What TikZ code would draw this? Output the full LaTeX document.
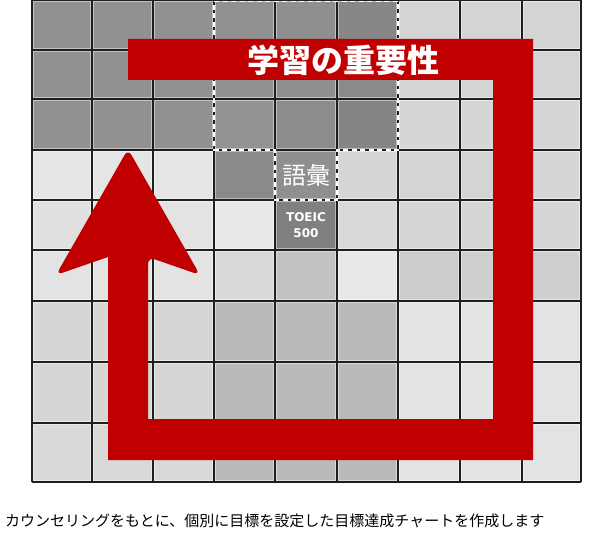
\documentclass[tikz,border=0pt]{standalone}
\usepackage{fontspec}
\newfontfamily\cjk{Noto Sans CJK JP}
\newfontfamily\dejab{DejaVu Sans}
\definecolor{arrowred}{HTML}{C00000}
\definecolor{gridink}{HTML}{1E1E1E}
\begin{document}
\begin{tikzpicture}[x=1pt,y=-1pt,
  gridline/.style={draw=gridink,line width=1.3pt},
  dashedge/.style={draw=white,line width=1.8pt,dash pattern=on 5pt off 3.5pt},
  titletext/.style={text=white,font=\cjk\bfseries\fontsize{32}{32}\selectfont,inner sep=0pt},
  celltext/.style={text=white,inner sep=0pt},
  captiontext/.style={text=black,font=\cjk\fontsize{15}{16}\selectfont,inner sep=0pt,anchor=west}]
\useasboundingbox (0,0) rectangle (600,537);
\fill[white] (0,0) rectangle (600,537);
\def\xs{{32,92,153,214,275,337,398,460,522,581}}
\def\ys{{0,50,99,150,200,250,301,362,423,482}}
\def\gl{{0.57,0.57,0.57, 0.57,0.56,0.53, 0.83,0.83,0.83,
         0.57,0.57,0.57, 0.57,0.56,0.54, 0.83,0.83,0.83,
         0.57,0.57,0.57, 0.58,0.55,0.52, 0.84,0.84,0.84,
         0.90,0.90,0.90, 0.54,0.56,0.84, 0.83,0.83,0.84,
         0.88,0.89,0.89, 0.91,0.50,0.85, 0.84,0.84,0.84,
         0.89,0.89,0.89, 0.85,0.76,0.91, 0.80,0.81,0.81,
         0.84,0.84,0.84, 0.73,0.73,0.73, 0.89,0.89,0.89,
         0.84,0.84,0.84, 0.73,0.73,0.73, 0.89,0.89,0.89,
         0.85,0.85,0.85, 0.73,0.73,0.73, 0.89,0.89,0.89}}
% cells
\foreach \r in {0,...,8}{
  \foreach \c in {0,...,8}{
    \pgfmathsetmacro\xa{\xs[\c]}
    \pgfmathsetmacro\xb{\xs[\c+1]}
    \pgfmathsetmacro\ya{\ys[\r]}
    \pgfmathsetmacro\yb{\ys[\r+1]}
    \pgfmathsetmacro\g{\gl[9*\r+\c]}
    \definecolor{cc}{gray}{\g}
    \fill[cc] (\xa,\ya) rectangle (\xb,\yb);
    \draw[cc!55!white,line width=1.2pt] (\xa+1.6,\ya+1.6) rectangle (\xb-1.6,\yb-1.6);
  }
}
% grid lines
\foreach \x in {32,92,153,214,275,337,398,460,522,581}{
  \draw[gridline] (\x,0) -- (\x,482);
}
\foreach \y in {0.6,50,99,150,200,250,301,362,423,482}{
  \draw[gridline] (32,\y) -- (581,\y);
}
% dashed outline of the vocabulary area
\draw[dashedge] (214,1.5) -- (398,1.5) -- (398,150) -- (337,150) -- (337,200)
  -- (275,200) -- (275,150) -- (214,150) -- cycle;
% red arrow path
\coordinate (tl) at (128,39);
\coordinate (tr) at (533,39);
\coordinate (br) at (533,460);
\coordinate (bl) at (108,460);
\coordinate (hl) at (108,257);
\coordinate (wl) at (56,275);
\coordinate (tip) at (128,149);
\coordinate (wr) at (200,275);
\coordinate (hr) at (148,257);
\coordinate (ibl) at (148,419);
\coordinate (ibr) at (493,419);
\coordinate (itr) at (493,80);
\coordinate (itl) at (128,80);
\fill[arrowred] (tl) -- (tr) -- (br) -- (bl) -- (hl)
  [rounded corners=7pt] -- (wl) -- (tip) -- (wr) -- (hr) [sharp corners]
  -- (ibl) -- (ibr) -- (itr) -- (itl) -- cycle;
% texts
\node[titletext] (title) at (343,60) {学習の重要性};
\node[celltext,font=\cjk\fontsize{24}{24}\selectfont] (goi) at (306,175) {語彙};
\node[celltext,font=\dejab\bfseries\fontsize{12}{16}\selectfont,align=center] (toeic) at (306,225) {TOEIC\\500};
\node[captiontext] (caption) at (5,521) {カウンセリングをもとに、個別に目標を設定した目標達成チャートを作成します};
\end{tikzpicture}
\end{document}
